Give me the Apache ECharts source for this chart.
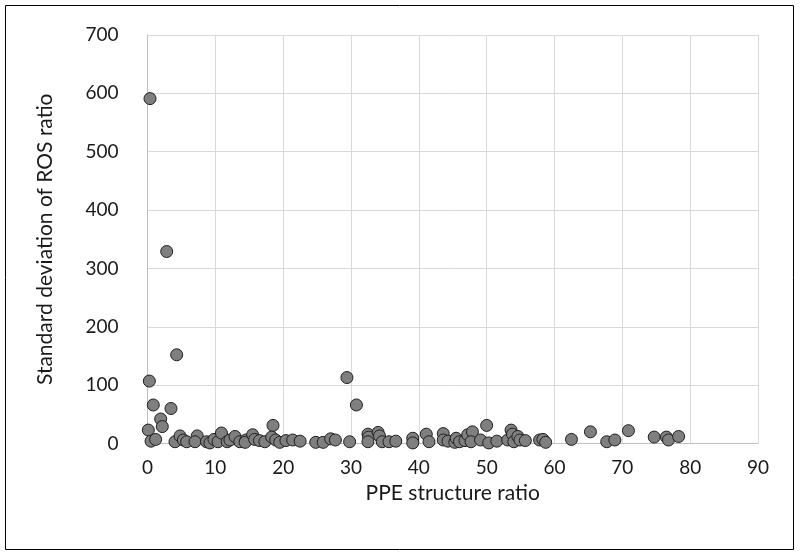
<!DOCTYPE html>
<html>
<head>
<meta charset="utf-8">
<script src="https://cdn.jsdelivr.net/npm/echarts@6/dist/echarts.min.js"></script>
<style>
  html, body { margin: 0; padding: 0; background: #fff; }
  #chart { width: 800px; height: 556px; }
</style>
</head>
<body>
<div id="chart"></div>
<script>
// PPE structure ratio (x) vs standard deviation of ROS ratio (y)
const ppeRatio = [
  0.27, 0.85, 3.46, 1.94, 2.18, 0.12, 0.52, 1.2, 4.05, 4.79,
  5.28, 5.77, 7.33, 7.0, 8.7, 9.2, 9.8, 10.4, 10.9, 11.75,
  12.15, 12.9, 13.6, 14.5, 14.4, 15.5, 15.8, 16.5, 17.3, 18.5,
  18.3, 18.9, 19.5, 20.4, 21.4, 22.5, 24.8, 25.9, 27.0, 27.7,
  29.4, 29.8, 30.8, 32.5, 32.6, 32.5, 34.0, 34.2, 34.6, 35.6,
  36.6, 39.1, 39.1, 41.1, 41.5, 43.6, 43.6, 44.3, 45.3, 45.5,
  46.0, 46.8, 47.2, 47.9, 47.7, 49.1, 50.0, 50.3, 51.5, 53.1,
  53.6, 53.8, 54.0, 54.6, 54.9, 55.7, 57.8, 58.3, 58.7, 62.5,
  65.3, 67.7, 68.9, 70.9, 74.7, 76.5, 76.8, 78.3, 0.37, 2.83,
  4.3
];
const rosStd = [
  107, 66, 60, 42, 29, 23, 4, 7, 3, 13,
  6, 3, 13, 3, 3, 1, 7, 3, 18, 3,
  6, 12, 3, 6, 2, 15, 7, 5, 3, 31,
  11, 6, 2, 5, 6, 4, 2, 2, 8, 6,
  113, 3, 66, 16, 11, 3, 19, 13, 3, 3,
  4, 9, 1, 16, 3, 17, 6, 4, 2, 9,
  3, 5, 15, 20, 3, 6, 31, 1, 4, 6,
  23, 16, 3, 12, 6, 5, 6, 7, 2, 7,
  20, 3, 6, 22, 11, 11, 6, 12, 591, 329,
  152
];

const points = ppeRatio.map((x, i) => [x, rosStd[i]]);

const chart = echarts.init(document.getElementById('chart'));
const font = 'Lato, "Open Sans", sans-serif';
const textColor = '#1a1a1a';

chart.setOption({
  backgroundColor: '#fff',
  animation: false,
  grid: { left: 147.5, right: 42, top: 35, bottom: 112.5 },
  graphic: [{
    type: 'rect',
    shape: { x: 5.5, y: 5.5, width: 788, height: 544 },
    style: { fill: 'none', stroke: '#000', lineWidth: 1 }
  }],
  xAxis: {
    type: 'value',
    min: 0, max: 90, interval: 10,
    name: 'PPE structure ratio',
    nameLocation: 'middle',
    nameGap: 36,
    nameTextStyle: { fontFamily: font, fontSize: 21, color: textColor },
    axisLine: { show: true, onZero: false, lineStyle: { color: '#bfbfbf', width: 1 } },
    axisTick: { show: false },
    axisLabel: { fontFamily: font, fontSize: 19, color: textColor, margin: 15 },
    splitLine: { show: true, lineStyle: { color: '#d9d9d9', width: 1 } }
  },
  yAxis: {
    type: 'value',
    min: 0, max: 700, interval: 100,
    name: 'Standard deviation of ROS ratio',
    nameLocation: 'middle',
    nameGap: 92,
    nameTextStyle: { fontFamily: font, fontSize: 21, color: textColor },
    axisLine: { show: true, lineStyle: { color: '#bfbfbf', width: 1 } },
    axisTick: { show: false },
    axisLabel: { fontFamily: font, fontSize: 19, color: textColor, margin: 29 },
    splitLine: { show: true, lineStyle: { color: '#d9d9d9', width: 1 } }
  },
  series: [{
    type: 'scatter',
    data: points,
    symbol: 'circle',
    symbolSize: 12,
    itemStyle: { color: '#7f7f7f', borderColor: '#1f1f1f', borderWidth: 1, opacity: 1 }
  }]
});
</script>
</body>
</html>
